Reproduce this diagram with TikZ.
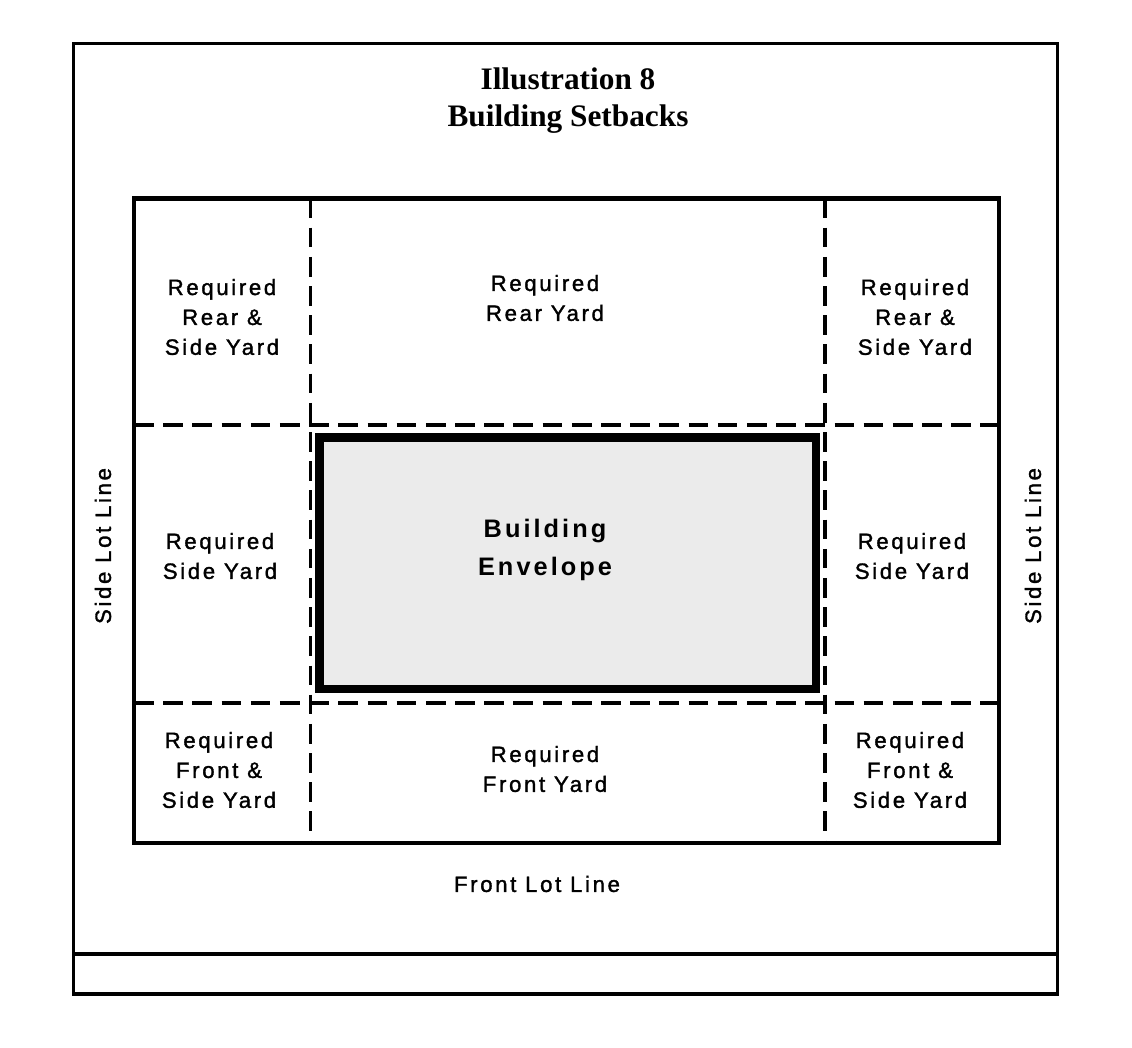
\documentclass[tikz,border=0pt]{standalone}
\usepackage{fontspec}
\setmainfont{Liberation Serif}
\newfontfamily\lblfont{Liberation Sans}[LetterSpace=12, FakeBold=1.5]
\newfontfamily\corefont{Liberation Sans Bold}[LetterSpace=12]
\usepackage{xcolor}
\usepackage{tikz}
\usetikzlibrary{positioning}

\begin{document}
\begin{tikzpicture}[x=0.01cm, y=-0.01cm,
  frame/.style={draw, line width=0.95pt},
  lot/.style={draw, line width=1.3pt},
  setback/.style={draw, line width=1.05pt, dash pattern=on 5.6pt off 2.7pt},
  envelope/.style={draw, line width=2.4pt, fill=gray!16},
  yard/.style={align=center, inner sep=0pt, font=\lblfont\fontsize{6.3}{8.5}\selectfont},
  core/.style={align=center, inner sep=0pt, font=\corefont\fontsize{7.2}{10.8}\selectfont},
  title/.style={align=center, inner sep=0pt, font=\bfseries\fontsize{8.9}{10.5}\selectfont}
]
\useasboundingbox (0,0) rectangle (1132,1048);

%% --- Page frame ---
\draw[frame] (73.5,43.5) rectangle (1057.5,994);
\draw[frame] (73.5,954) -- (1057.5,954);
\node[title] (ttl) at (568,101) {Illustration 8\\Building Setbacks};

%% --- Setback lines (dashed) ---
\draw[setback] (310.5,198.5) -- (310.5,843);
\draw[setback] (825,198.5) -- (825,843);
\draw[setback] (134,425) -- (999,425);
\draw[setback] (134,703) -- (999,703);

%% --- Building envelope ---
\draw[envelope] (319.5,437.5) rectangle (816,689);
\node[core] (env) at (545,550) {Building\\Envelope};

%% --- Lot lines ---
\draw[lot] (134,198.5) rectangle (999,843);
\node[yard, rotate=90] (sideL) at (103,546) {Side Lot Line};
\node[yard, rotate=90] (sideR) at (1033,546) {Side Lot Line};
\node[yard] (front) at (537,884) {Front Lot Line};

%% --- Yard labels ---
\node[yard] (rearL)  at (222,317) {Required\\Rear \&\\Side Yard};
\node[yard] (rear)   at (545,298) {Required\\Rear Yard};
\node[yard] (rearR)  at (915,317) {Required\\Rear \&\\Side Yard};
\node[yard] (sideYL) at (220,556) {Required\\Side Yard};
\node[yard] (sideYR) at (912,556) {Required\\Side Yard};
\node[yard] (frontL) at (219,770) {Required\\Front \&\\Side Yard};
\node[yard] (frnt)   at (545,769) {Required\\Front Yard};
\node[yard] (frontR) at (910,770) {Required\\Front \&\\Side Yard};
\end{tikzpicture}
\end{document}
